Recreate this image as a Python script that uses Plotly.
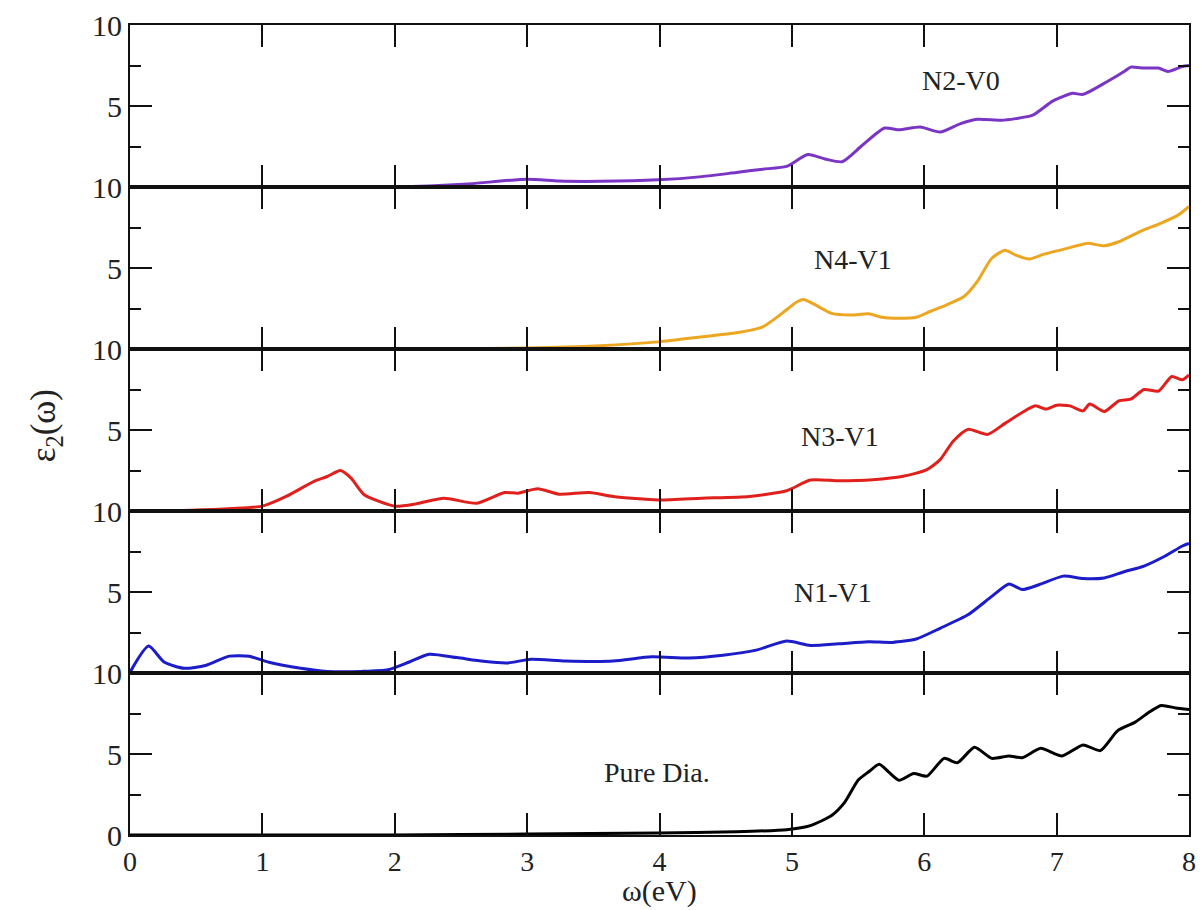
import plotly.graph_objects as go
from plotly.subplots import make_subplots

# Imaginary part of the dielectric function for each structure (energy in eV)
n2v0_x = [0.0, 1.0, 2.0, 2.52, 3.0, 3.24, 3.55, 3.99, 4.32, 4.58, 4.78, 4.96, 5.12, 5.25, 5.38,
          5.53, 5.70, 5.81, 5.97, 6.12, 6.27, 6.40, 6.58, 6.69, 6.82, 6.97, 7.12, 7.20, 7.38,
          7.51, 7.56, 7.66, 7.77, 7.84, 7.95, 8.0]
n2v0_y = [0.0, 0.0, 0.0, 0.17, 0.48, 0.37, 0.35, 0.44, 0.64, 0.9, 1.1, 1.27, 2.0, 1.73, 1.56,
          2.56, 3.64, 3.53, 3.7, 3.39, 3.9, 4.18, 4.12, 4.22, 4.43, 5.3, 5.78, 5.72, 6.5,
          7.13, 7.4, 7.34, 7.34, 7.13, 7.44, 7.5]

n4v1_x = [0.0, 1.0, 2.0, 3.0, 3.55, 3.99, 4.32, 4.58, 4.78, 4.91, 5.04, 5.09, 5.17, 5.30, 5.45,
          5.58, 5.68, 5.81, 5.94, 6.04, 6.17, 6.30, 6.40, 6.51, 6.61, 6.69, 6.79, 6.90, 7.05,
          7.23, 7.36, 7.47, 7.63, 7.79, 7.92, 8.0]
n4v1_y = [0.0, 0.0, 0.0, 0.06, 0.2, 0.44, 0.75, 1.0, 1.37, 2.1, 2.92, 3.06, 2.75, 2.2, 2.1,
          2.17, 1.96, 1.9, 1.96, 2.3, 2.73, 3.24, 4.16, 5.6, 6.1, 5.8, 5.55, 5.84, 6.15,
          6.52, 6.37, 6.62, 7.25, 7.77, 8.28, 8.8]

n3v1_x = [0.0, 0.46, 0.77, 1.0, 1.18, 1.39, 1.49, 1.59, 1.67, 1.77, 2.0, 2.16, 2.37, 2.62, 2.83,
          2.93, 3.08, 3.24, 3.47, 3.65, 3.99, 4.32, 4.68, 4.96, 5.14, 5.35, 5.61, 5.84, 6.02,
          6.12, 6.22, 6.33, 6.48, 6.61, 6.74, 6.84, 6.92, 7.0, 7.1, 7.20, 7.25, 7.36, 7.47,
          7.56, 7.66, 7.77, 7.87, 7.95, 8.0]
n3v1_y = [0.0, 0.05, 0.15, 0.3, 0.9, 1.83, 2.13, 2.5, 2.03, 1.0, 0.3, 0.44, 0.79, 0.48, 1.14,
          1.1, 1.37, 1.04, 1.14, 0.9, 0.68, 0.79, 0.9, 1.25, 1.91, 1.87, 1.93, 2.14, 2.55,
          3.17, 4.32, 5.04, 4.73, 5.41, 6.08, 6.49, 6.29, 6.53, 6.49, 6.18, 6.6, 6.14, 6.8,
          6.9, 7.5, 7.4, 8.3, 8.1, 8.4]

n1v1_x = [0.0, 0.14, 0.26, 0.41, 0.57, 0.75, 0.9, 1.05, 1.29, 1.49, 1.75, 1.95, 2.11, 2.26, 2.47,
          2.67, 2.85, 3.03, 3.29, 3.65, 3.94, 4.22, 4.48, 4.73, 4.96, 5.14, 5.35, 5.58, 5.76,
          5.94, 6.12, 6.33, 6.51, 6.64, 6.74, 6.87, 7.05, 7.20, 7.36, 7.51, 7.66, 7.82, 7.95, 8.0]
n1v1_y = [0.04, 1.66, 0.66, 0.29, 0.46, 1.04, 1.04, 0.66, 0.29, 0.1, 0.1, 0.2, 0.68, 1.16, 0.95,
          0.72, 0.62, 0.85, 0.74, 0.74, 1.0, 0.93, 1.1, 1.41, 1.97, 1.7, 1.8, 1.93, 1.89,
          2.1, 2.76, 3.59, 4.73, 5.5, 5.15, 5.46, 5.98, 5.83, 5.87, 6.25, 6.6, 7.22, 7.84, 8.0]

pure_x = [0.0, 1.0, 2.0, 3.0, 3.99, 4.58, 4.96, 5.14, 5.30, 5.40, 5.50, 5.58, 5.66, 5.73, 5.81,
          5.92, 6.02, 6.15, 6.25, 6.38, 6.51, 6.64, 6.74, 6.88, 7.04, 7.20, 7.33, 7.46, 7.59,
          7.69, 7.79, 7.90, 8.0]
pure_y = [0.0, 0.0, 0.0, 0.06, 0.12, 0.2, 0.33, 0.58, 1.2, 2.03, 3.38, 3.9, 4.36, 3.9, 3.38,
          3.8, 3.63, 4.73, 4.46, 5.41, 4.73, 4.88, 4.77, 5.35, 4.88, 5.56, 5.21, 6.43, 6.95,
          7.53, 7.99, 7.84, 7.74]

panels = [
    ("N2-V0", n2v0_x, n2v0_y, "#7a35c4", 6.28, 6.6),
    ("N4-V1", n4v1_x, n4v1_y, "#eca622", 5.46, 5.5),
    ("N3-V1", n3v1_x, n3v1_y, "#e0201c", 5.36, 4.6),
    ("N1-V1", n1v1_x, n1v1_y, "#1c1cc8", 5.31, 5.0),
    ("Pure Dia.", pure_x, pure_y, "#000000", 3.98, 3.85),
]

x_ticks = [0, 1, 2, 3, 4, 5, 6, 7, 8]
y_ticks = [0, 5, 10]

serif = "Liberation Serif, Times New Roman, serif"

fig = make_subplots(rows=5, cols=1, shared_xaxes=True, vertical_spacing=0)

for i, (name, xs, ys, color, lx, ly) in enumerate(panels, start=1):
    fig.add_trace(
        go.Scatter(x=xs, y=ys, mode="lines", name=name,
                   line=dict(color=color, width=3, shape="spline", smoothing=0.6),
                   showlegend=False),
        row=i, col=1,
    )
    axis_ref = "" if i == 1 else str(i)
    fig.add_annotation(x=lx, y=ly, xref="x" + axis_ref, yref="y" + axis_ref,
                       text=name, showarrow=False,
                       font=dict(family=serif, size=28, color="#222"))
    last = i == len(panels)
    fig.update_yaxes(
        range=[0, 10], tickmode="array", tickvals=y_ticks,
        ticktext=["0" if last else "", "5", "10"],
        ticks="inside", ticklen=22, tickwidth=2, tickcolor="#111",
        minor=dict(tickvals=[2.5, 7.5], ticks="inside", ticklen=11, tickwidth=2, tickcolor="#111"),
        showline=True, linewidth=2, linecolor="#111", mirror="ticks",
        showgrid=False, zeroline=False,
        tickfont=dict(family=serif, size=30, color="#222"),
        row=i, col=1,
    )
    fig.update_xaxes(
        range=[0, 8], tickmode="array", tickvals=x_ticks,
        showticklabels=last, ticklabeloverflow="allow",
        ticks="inside", ticklen=22, tickwidth=2, tickcolor="#111",
        showline=True, linewidth=2, linecolor="#111", mirror="ticks",
        showgrid=False, zeroline=False,
        tickfont=dict(family=serif, size=28, color="#222"),
        row=i, col=1,
    )

# Axis titles
fig.add_annotation(x=0.5, y=-0.0915, xref="paper", yref="paper", text="ω(eV)",
                   showarrow=False, xanchor="center", yanchor="bottom", borderpad=0,
                   font=dict(family=serif, size=30, color="#222"))
fig.add_annotation(x=-0.079, y=0.505, xref="paper", yref="paper",
                   text="ε<sub>2</sub>(ω)", textangle=-90, showarrow=False,
                   xanchor="center", yanchor="middle",
                   font=dict(family=serif, size=35, color="#222"))

fig.update_layout(
    width=1204, height=910,
    margin=dict(l=130, r=8, t=25, b=75),
    paper_bgcolor="white", plot_bgcolor="white",
)

fig.write_html("out.html")
